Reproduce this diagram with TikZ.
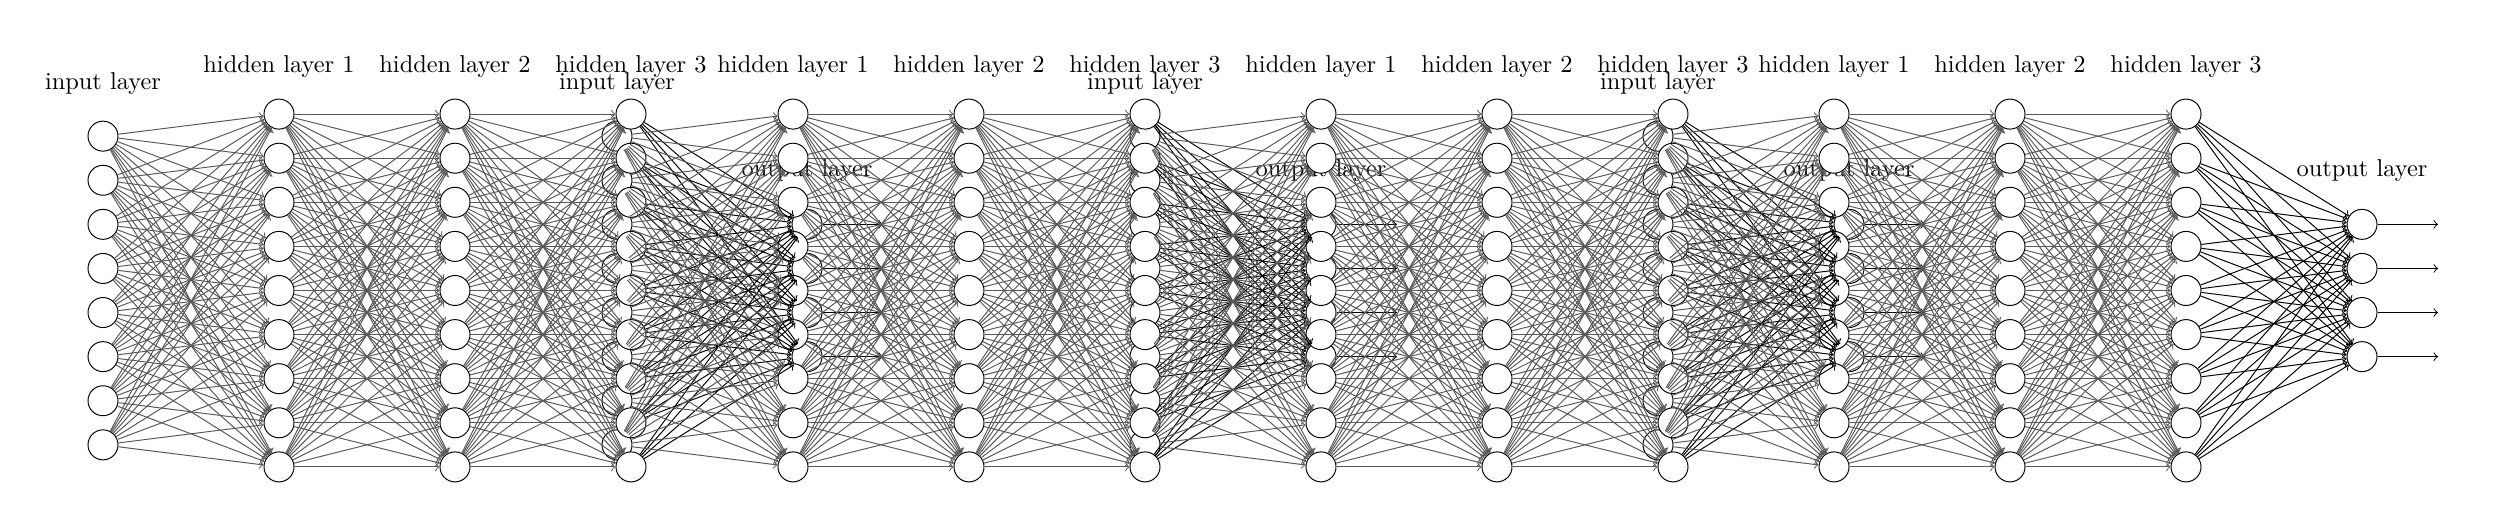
\documentclass[tikz,border=0pt]{standalone}
\begin{document}
\begin{tikzpicture}[
    x=0.41pt, y=-0.41pt,
    neuron/.style={circle, draw, fill=white, minimum size=12.3pt, inner sep=0pt},
    synapse/.style={->, draw=black!65},
    outsynapse/.style={->, draw=black},
    annot/.style={anchor=base, inner sep=0pt}
]
\useasboundingbox (0,0) rectangle (2500,528);
\foreach \net/\x in {1/103, 2/617, 3/1145, 4/1658} {
    \foreach \i in {1,...,8}
        \node[neuron] (in\net-\i) at (\x, {290.5+44.1*(\i-4.5)}) {};
    \foreach \i in {1,...,4} {
        \node[neuron] (out\net-\i) at ({\x+704}, {290.5+44.1*(\i-2.5)}) {};
        \path (out\net-\i) ++(76,0) coordinate (end\net-\i);
    }
    \node[annot] (inlabel\net) at (\x, 90) {input layer};
    \foreach \l in {1,2,3}
        \node[annot] (hidlabel\net-\l) at ({\x+176*\l}, 73) {hidden layer \l};
    \node[annot] (outlabel\net) at ({\x+704}, 177) {output layer};
}
\foreach \net/\x in {1/103, 2/617, 3/1145, 4/1658}
    \foreach \l in {1,2,3}
        \foreach \i in {1,...,9}
            \node[neuron] (hid\net-\l-\i) at ({\x+176*\l}, {290.5+44.1*(\i-5)}) {};
\foreach \net in {1,...,4} {
    \foreach \i in {1,...,8}
        \foreach \j in {1,...,9}
            \draw[synapse] (in\net-\i) -- (hid\net-1-\j);
    \foreach \l/\m in {1/2, 2/3}
        \foreach \i in {1,...,9}
            \foreach \j in {1,...,9}
                \draw[synapse] (hid\net-\l-\i) -- (hid\net-\m-\j);
    \foreach \i in {1,...,9}
        \foreach \j in {1,...,4}
            \draw[outsynapse] (hid\net-3-\i) -- (out\net-\j);
    \foreach \i in {1,...,4}
        \draw[outsynapse] (out\net-\i) -- (end\net-\i);
}
\end{tikzpicture}
\end{document}
